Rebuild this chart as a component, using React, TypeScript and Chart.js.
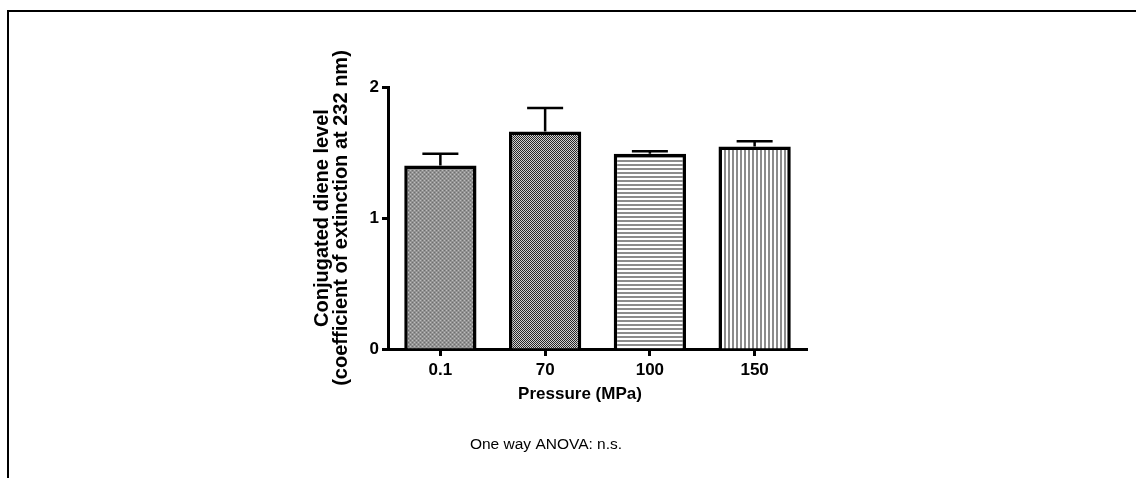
import React, { useEffect, useRef } from "react";
import { Chart, registerables } from "chart.js";

Chart.register(...registerables);

const pressures = ["0.1", "70", "100", "150"];
const dieneMeans = [1.4, 1.66, 1.49, 1.545];
const dieneSem = [0.09, 0.18, 0.02, 0.04];
const yTicks = [0, 1, 2];

const FONT = "'Liberation Sans', Arial, sans-serif";

function makePattern(kind: string): CanvasPattern | string {
  const c = document.createElement("canvas");
  const size = 4;
  c.width = size;
  c.height = size;
  const g = c.getContext("2d");
  if (!g) return "#999";
  if (kind === "dots") {
    g.fillStyle = "#929292";
    g.fillRect(0, 0, size, size);
    g.fillStyle = "#bcbcbc";
    g.fillRect(0, 0, 1, 1);
    g.fillRect(2, 2, 1, 1);
    g.fillStyle = "#6e6e6e";
    g.fillRect(2, 0, 1, 1);
    g.fillRect(0, 2, 1, 1);
  } else if (kind === "checker") {
    for (let y = 0; y < size; y++) {
      for (let x = 0; x < size; x++) {
        g.fillStyle = (x + y) % 2 === 0 ? "#262626" : "#d0d0d0";
        g.fillRect(x, y, 1, 1);
      }
    }
  } else if (kind === "hlines") {
    g.fillStyle = "#ffffff";
    g.fillRect(0, 0, size, size);
    g.fillStyle = "#8c8c8c";
    g.fillRect(0, 0, size, 2);
  } else {
    g.fillStyle = "#ffffff";
    g.fillRect(0, 0, size, size);
    g.fillStyle = "#8c8c8c";
    g.fillRect(0, 0, 2, size);
  }
  return g.createPattern(c, "repeat") || "#999";
}

const frameAndText = {
  id: "frameAndText",
  afterDraw(chart: any) {
    const { ctx, chartArea } = chart;
    const ys = chart.scales.y;
    ctx.save();
    // outer frame (top and left edges)
    ctx.strokeStyle = "#000";
    ctx.lineWidth = 2;
    ctx.beginPath();
    ctx.moveTo(8, 478);
    ctx.lineTo(8, 11);
    ctx.lineTo(1136, 11);
    ctx.stroke();

    // error bars (upper half)
    const meta = chart.getDatasetMeta(0);
    ctx.lineWidth = 2.5;
    meta.data.forEach((bar: any, i: number) => {
      const x = bar.x;
      const yTop = ys.getPixelForValue(dieneMeans[i] + dieneSem[i]);
      const yMean = ys.getPixelForValue(dieneMeans[i]);
      ctx.beginPath();
      ctx.moveTo(x, yMean);
      ctx.lineTo(x, yTop);
      ctx.moveTo(x - 18, yTop);
      ctx.lineTo(x + 18, yTop);
      ctx.stroke();
    });

    // axis titles and footnote
    ctx.fillStyle = "#000";
    const midY = (chartArea.top + chartArea.bottom) / 2;
    ctx.save();
    ctx.translate(328, midY);
    ctx.rotate(-Math.PI / 2);
    ctx.font = `bold 20px ${FONT}`;
    ctx.textAlign = "center";
    ctx.textBaseline = "alphabetic";
    ctx.fillText("Conjugated diene level", 0, 0);
    ctx.fillText("(coefficient of extinction at 232 nm)", 0, 19);
    ctx.restore();

    ctx.font = `bold 17px ${FONT}`;
    ctx.textAlign = "center";
    ctx.textBaseline = "middle";
    ctx.fillText("Pressure (MPa)", 580, 394);

    ctx.font = `15.5px ${FONT}`;
    ctx.fillText("One way ANOVA: n.s.", 546, 445);
    ctx.restore();
  },
};

export default function App() {
  const ref = useRef<HTMLCanvasElement | null>(null);

  useEffect(() => {
    if (!ref.current) return;
    const fills = [
      makePattern("dots"),
      makePattern("checker"),
      makePattern("hlines"),
      makePattern("vlines"),
    ];
    const chart = new Chart(ref.current, {
      type: "bar",
      data: {
        labels: pressures,
        datasets: [
          {
            data: dieneMeans,
            backgroundColor: fills as any,
            borderColor: "#000",
            borderWidth: 3.5,
            borderSkipped: "bottom",
            categoryPercentage: 1,
            barPercentage: 0.69,
          },
        ],
      },
      options: {
        animation: false,
        responsive: false,
        maintainAspectRatio: false,
        devicePixelRatio: 1,
        layout: { padding: { left: 300, right: 329, top: 87, bottom: 0 } },
        plugins: {
          legend: { display: false },
          tooltip: { enabled: false },
          title: { display: false },
        },
        scales: {
          x: {
            grid: {
              display: true,
              drawOnChartArea: false,
              drawTicks: true,
              tickLength: 7,
              tickWidth: 3,
              tickColor: "#000",
              offset: false,
            },
            border: { display: true, color: "#000", width: 3 },
            ticks: {
              color: "#000",
              font: { family: FONT, size: 17, weight: "bold" },
              padding: 4,
            },
            afterFit(scale: any) {
              scale.height = 129;
            },
          },
          y: {
            min: 0,
            max: 2,
            afterBuildTicks(scale: any) {
              scale.ticks = yTicks.map((v) => ({ value: v }));
            },
            grid: {
              display: true,
              drawOnChartArea: false,
              drawTicks: true,
              tickLength: 6,
              tickWidth: 3,
              tickColor: "#000",
            },
            border: { display: true, color: "#000", width: 3 },
            ticks: {
              color: "#000",
              font: { family: FONT, size: 17, weight: "bold" },
              padding: 3,
            },
            afterFit(scale: any) {
              scale.width = 88;
            },
          },
        },
      },
      plugins: [frameAndText],
    });
    return () => chart.destroy();
  }, []);

  return (
    <div style={{ position: "absolute", left: 0, top: 0, width: 1136, height: 478, background: "#fff" }}>
      <canvas ref={ref} width={1136} height={478} style={{ display: "block" }} />
    </div>
  );
}
